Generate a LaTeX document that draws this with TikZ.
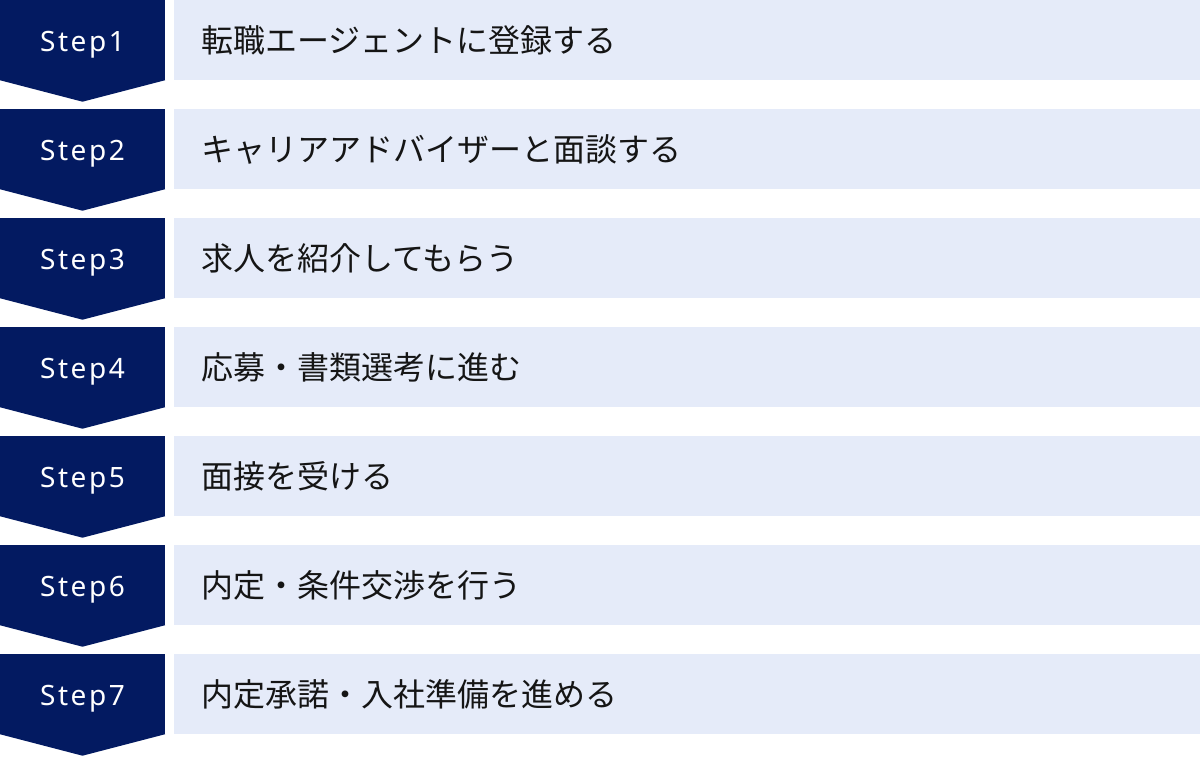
\documentclass[tikz,border=0pt]{standalone}
\usepackage{fontspec}
\newfontfamily\jpfont{Noto Sans CJK JP}
\newfontfamily\stepfont[LetterSpace=9]{Noto Sans}
\usepackage{tikz}
\usetikzlibrary{calc}
\usetikzlibrary{positioning}
\definecolor{stepnavy}{HTML}{031A61}
\definecolor{tasklight}{HTML}{E5EBF9}
\definecolor{taskink}{HTML}{151515}
\tikzset{
  stepbox/.style={rectangle, fill=stepnavy, text=white, minimum width=165pt, minimum height=80pt, inner sep=0pt, text height=23pt, text depth=0pt, font=\stepfont\fontsize{28}{32}\selectfont},
  taskbox/.style={rectangle, fill=tasklight, text=taskink, minimum width=1026pt, minimum height=80pt, inner xsep=27pt, inner ysep=0pt, text width=972pt, align=left, font=\jpfont\fontsize{32}{36}\selectfont},
  steptip/.style={fill=stepnavy}
}
\begin{document}
\begin{tikzpicture}[x=1pt, y=1pt]
				\useasboundingbox (0,0) rectangle (1200,-756);
				\node[stepbox] (s1) at (82.5,-40) {Step1};
				\node[stepbox] (s2) at (82.5,-149) {Step2};
				\node[stepbox] (s3) at (82.5,-258) {Step3};
				\node[stepbox] (s4) at (82.5,-367) {Step4};
				\node[stepbox] (s5) at (82.5,-476) {Step5};
				\node[stepbox] (s6) at (82.5,-585) {Step6};
				\node[stepbox] (s7) at (82.5,-694) {Step7};
				
				\node[taskbox] (t1) at (687,-40) {転職エージェントに登録する};
				\node[taskbox] (t2) at (687,-149) {キャリアアドバイザーと面談する};
				\node[taskbox] (t3) at (687,-258) {求人を紹介してもらう};
				\node[taskbox] (t4) at (687,-367) {応募・書類選考に進む};
				\node[taskbox] (t5) at (687,-476) {面接を受ける};
				\node[taskbox] (t6) at (687,-585) {内定・条件交渉を行う};
				\node[taskbox] (t7) at (687,-694) {内定承諾・入社準備を進める};
				
				% arrow points under each step
				\fill[steptip] (s1.south west) -- (s1.south east) -- ($(s1.south)+(0,-21.5)$) -- cycle;
				\fill[steptip] (s2.south west) -- (s2.south east) -- ($(s2.south)+(0,-21.5)$) -- cycle;
				\fill[steptip] (s3.south west) -- (s3.south east) -- ($(s3.south)+(0,-21.5)$) -- cycle;
				\fill[steptip] (s4.south west) -- (s4.south east) -- ($(s4.south)+(0,-21.5)$) -- cycle;
				\fill[steptip] (s5.south west) -- (s5.south east) -- ($(s5.south)+(0,-21.5)$) -- cycle;
				\fill[steptip] (s6.south west) -- (s6.south east) -- ($(s6.south)+(0,-21.5)$) -- cycle;
				\fill[steptip] (s7.south west) -- (s7.south east) -- ($(s7.south)+(0,-21.5)$) -- cycle;
			\end{tikzpicture}
\end{document}
